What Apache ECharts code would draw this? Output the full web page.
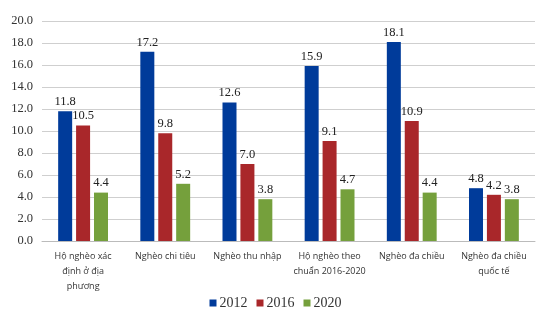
<!DOCTYPE html>
<html><head><meta charset="utf-8">
<script src="https://cdn.jsdelivr.net/npm/echarts@6/dist/echarts.min.js"></script>
<style>html,body{margin:0;padding:0;background:#fff}#c{width:551px;height:324px}</style>
</head><body><div id="c"></div>
<script>
const categories = ["Hộ nghèo xác\nđịnh ở địa\nphương", "Nghèo chi tiêu", "Nghèo thu nhập", "Hộ nghèo theo\nchuẩn 2016-2020", "Nghèo đa chiều", "Nghèo đa chiều\nquốc tế"];
const seriesNames = ["2012", "2016", "2020"];
const v2012 = [11.8, 17.2, 12.6, 15.9, 18.1, 4.8];
const v2016 = [10.5, 9.8, 7.0, 9.1, 10.9, 4.2];
const v2020 = [4.4, 5.2, 3.8, 4.7, 4.4, 3.8];
const colors = ["#003b9a", "#a9272a", "#75a03c"];
const serif = "'Liberation Serif', 'DejaVu Serif', serif";
const chart = echarts.init(document.getElementById('c'));
const mk = (name, data, i) => ({
  name, type: 'bar', data, barWidth: 14, barGap: '28%',
  itemStyle: { color: colors[i] },
  label: { show: true, position: 'top', distance: 3, formatter: p => p.value.toFixed(1), fontFamily: serif, fontSize: 12.5, color: '#222' }
});
chart.setOption({
  animation: false,
  grid: { left: 42, right: 16, top: 21, bottom: 83 },
  legend: {
    bottom: 9, left: 'center', itemWidth: 7, itemHeight: 7, itemGap: 9,
    icon: 'rect',
    textStyle: { fontFamily: serif, fontSize: 14, color: '#333', padding: [0, 0, 0, -2] },
    data: seriesNames
  },
  xAxis: {
    type: 'category', data: categories,
    axisLine: { lineStyle: { color: '#bbb' } }, axisTick: { show: false },
    axisLabel: { fontFamily: "'Open Sans', 'Noto Sans', sans-serif", fontSize: 9, color: '#333', lineHeight: 15, margin: 8, interval: 0 }
  },
  yAxis: {
    type: 'value', min: 0, max: 20, interval: 2,
    axisLine: { show: false }, axisTick: { show: false },
    axisLabel: { formatter: v => v.toFixed(1), fontFamily: serif, fontSize: 12.5, color: '#333', margin: 9 },
    splitLine: { lineStyle: { color: '#cfcfcf' } }
  },
  series: [mk(seriesNames[0], v2012, 0), mk(seriesNames[1], v2016, 1), mk(seriesNames[2], v2020, 2)]
});
</script></body></html>
